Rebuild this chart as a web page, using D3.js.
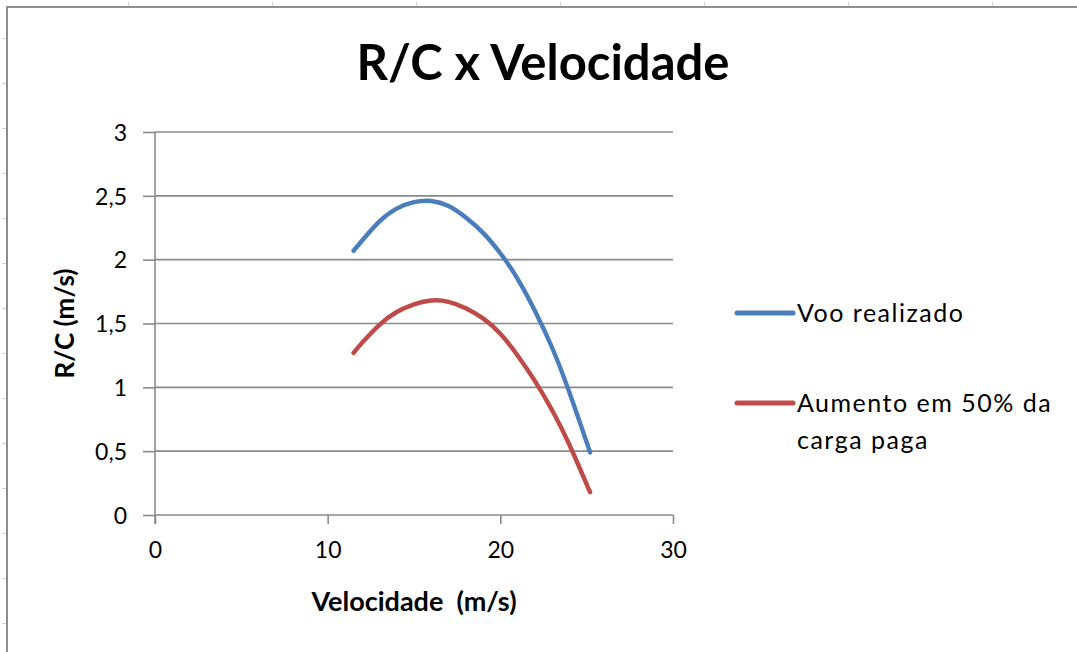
<!DOCTYPE html>
<html>
<head>
<meta charset="utf-8">
<script src="https://cdn.jsdelivr.net/npm/d3@7"></script>
<style>
  html, body { margin: 0; padding: 0; background: #fff; }
  svg { display: block; }
  text { font-family: Lato, "Open Sans", sans-serif; fill: #000; }
</style>
</head>
<body>
<svg id="chart" width="1077" height="652"></svg>
<script>
// Rate of climb (R/C) versus flight speed, two load cases
const velocidade = [11.5, 12, 13, 14, 15, 16, 17, 18, 19, 20, 21, 22, 23, 24, 25, 25.2];
const rcVooRealizado = [2.07, 2.15, 2.30, 2.40, 2.45, 2.46, 2.42, 2.33, 2.21, 2.05, 1.85, 1.60, 1.31, 0.96, 0.57, 0.49];
const rcAumento50 = [1.27, 1.35, 1.49, 1.59, 1.65, 1.68, 1.67, 1.62, 1.54, 1.42, 1.25, 1.05, 0.82, 0.55, 0.24, 0.18];
const seriesNames = ["Voo realizado", "Aumento em 50% da carga paga"];
const seriesColors = ["#4a7ebb", "#be4b48"];
const xTicks = [0, 10, 20, 30];
const yTicks = [0, 0.5, 1, 1.5, 2, 2.5, 3];
const title = "R/C x Velocidade";
const xTitle = "Velocidade  (m/s)";
const yTitle = "R/C (m/s)";

const svg = d3.select("#chart");
const W = 1077, H = 652;

// faint sheet-cell marks outside the chart frame
const sheet = svg.append("g").attr("stroke", "#d0d0d0").attr("stroke-width", 1);
d3.range(38, H, 45).forEach(y => sheet.append("line").attr("x1", 2).attr("x2", 6).attr("y1", y + 0.5).attr("y2", y + 0.5));
d3.range(128, W, 144).forEach(x => sheet.append("line").attr("x1", x + 0.5).attr("x2", x + 0.5).attr("y1", 2).attr("y2", 6));

// chart frame
svg.append("path")
  .attr("d", `M7,${H} V7 H${W}`)
  .attr("fill", "none").attr("stroke", "#8e8e8e").attr("stroke-width", 2);

const x = d3.scaleLinear().domain([0, 30]).range([155, 673]);
const y = d3.scaleLinear().domain([0, 3]).range([515, 132]);

// horizontal gridlines
svg.append("g")
  .selectAll("line").data(yTicks.filter(d => d > 0)).join("line")
  .attr("x1", x(0)).attr("x2", x(30))
  .attr("y1", d => y(d)).attr("y2", d => y(d))
  .attr("stroke", "#8a8a8a").attr("stroke-width", 1.6);

// axes
const yAxis = svg.append("g").attr("transform", `translate(${x(0)},0)`)
  .call(d3.axisLeft(y).tickValues(yTicks).tickSize(12).tickPadding(16)
    .tickFormat(d => d3.format("")(d).replace(".", ",")));
const xAxis = svg.append("g").attr("transform", `translate(0,${y(0)})`)
  .call(d3.axisBottom(x).tickValues(xTicks).tickSize(9).tickPadding(18));

[yAxis, xAxis].forEach(g => {
  g.select(".domain").attr("stroke", "#8a8a8a").attr("stroke-width", 1.6);
  g.selectAll(".tick line").attr("stroke", "#8a8a8a").attr("stroke-width", 1.6);
  g.selectAll(".tick text").attr("font-size", 23).attr("font-family", "Lato, sans-serif").attr("fill", "#000");
});
yAxis.selectAll(".tick text").attr("dy", "0.36em");
// keep the domain lines inside the plot, ticks carry the overhang
xAxis.select(".domain").attr("d", `M${x(0)},0H${x(30)}`);
yAxis.select(".domain").attr("d", `M0,${y(0) + 9}V${y(3)}`);

// series lines
const line = d3.line().x(d => x(d[0])).y(d => y(d[1])).curve(d3.curveNatural);
const series = [rcVooRealizado, rcAumento50];
series.forEach((vals, i) => {
  svg.append("path")
    .datum(velocidade.map((v, j) => [v, vals[j]]))
    .attr("d", line)
    .attr("fill", "none")
    .attr("stroke", seriesColors[i])
    .attr("stroke-width", 4.4)
    .attr("stroke-linecap", "round");
});

// title
svg.append("text").attr("x", 543).attr("y", 80).attr("text-anchor", "middle")
  .attr("font-size", 49).attr("font-weight", 700).text(title);

// axis titles
svg.append("text").attr("x", (x(0) + x(30)) / 2).attr("y", 611).attr("text-anchor", "middle")
  .attr("font-size", 27).attr("font-weight", 700).attr("xml:space", "preserve").text(xTitle);
svg.append("text").attr("transform", `translate(74,${(y(0) + y(3)) / 2}) rotate(-90)`)
  .attr("text-anchor", "middle").attr("font-size", 26).attr("font-weight", 700).text(yTitle);

// legend
const legendY = [313, 403];
const legend = svg.append("g");
seriesNames.forEach((name, i) => {
  legend.append("line")
    .attr("x1", 737).attr("x2", 793)
    .attr("y1", legendY[i]).attr("y2", legendY[i])
    .attr("stroke", seriesColors[i]).attr("stroke-width", 5).attr("stroke-linecap", "round");
  const t = legend.append("text").attr("x", 797).attr("y", legendY[i] + 9)
    .attr("font-size", 25).attr("letter-spacing", 1.5);
  const lines = i === 1 ? ["Aumento em 50% da", "carga paga"] : [name];
  lines.forEach((s, k) => t.append("tspan").attr("x", 797).attr("dy", k === 0 ? 0 : 37).text(s));
});
</script>
</body>
</html>
